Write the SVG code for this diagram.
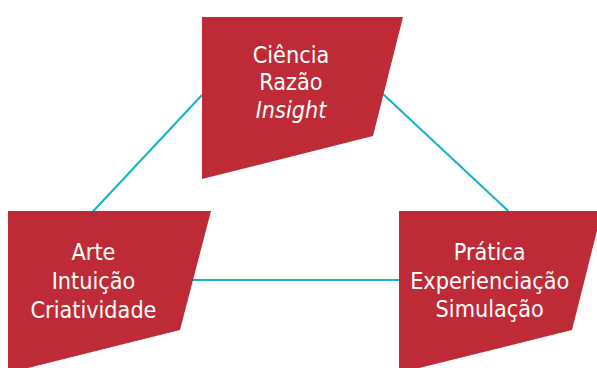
<svg xmlns="http://www.w3.org/2000/svg" width="597" height="368" viewBox="0 0 597 368">
  <style>
    .box { fill: #BE2B37; }
    .lbl { font-family: "DejaVu Sans Condensed", "Liberation Sans", sans-serif; font-stretch: condensed; font-size: 23.2px; fill: #ffffff; text-anchor: middle; }
    .it { font-style: italic; }
    .conn { stroke: #13B3C7; stroke-width: 2; fill: none; }
  </style>
  <rect width="597" height="368" fill="#ffffff"/>
  <g id="connectors">
    <line class="conn" x1="92.7" y1="211.7" x2="202" y2="95"/>
    <line class="conn" x1="383" y1="94" x2="508.3" y2="211"/>
    <line class="conn" x1="190" y1="280" x2="400" y2="280"/>
  </g>
  <g id="ciencia">
    <polygon class="box" points="202,17 403,17 373,136 202,179"/>
    <text class="lbl" x="291" y="62.5">Ciência</text>
    <text class="lbl" x="291" y="90">Razão</text>
    <text class="lbl it" x="291" y="117.5">Insight</text>
  </g>
  <g id="arte">
    <polygon class="box" points="8,211 211,211 180,330 8,373"/>
    <text class="lbl" x="93.5" y="260">Arte</text>
    <text class="lbl" x="93.5" y="289">Intuição</text>
    <text class="lbl" x="93.5" y="317.5">Criatividade</text>
  </g>
  <g id="pratica">
    <polygon class="box" points="399,211 602,211 572,330 399,373"/>
    <text class="lbl" x="489.7" y="260">Prática</text>
    <text class="lbl" x="489.7" y="288.5">Experienciação</text>
    <text class="lbl" x="489.7" y="317">Simulação</text>
  </g>
</svg>
